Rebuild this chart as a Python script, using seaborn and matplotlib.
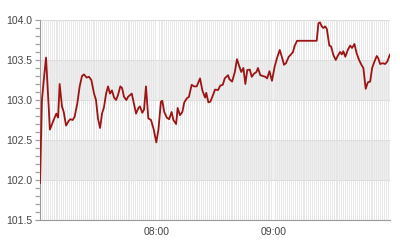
import matplotlib
matplotlib.use("Agg")
import matplotlib.pyplot as plt
import matplotlib.dates as mdates
from matplotlib.ticker import MultipleLocator
import seaborn as sns
import pandas as pd

# minutes after 07:00
minutes = [0, 1.0, 2.1, 3.1, 5.1, 6.7, 8.4, 9.3, 10.1, 11.3, 12.2, 13.4, 14.8, 15.6, 16.8, 17.8,
           19.2, 20.4, 21.6, 22.6, 24.0, 25.2, 26.4, 27.8, 28.8, 29.8, 30.9, 31.9, 32.9, 34.0,
           35.0, 36.0, 37.0, 38.1, 39.1, 40.1, 41.3, 42.2, 43.2, 44.4, 45.3, 47.2, 49.4, 50.6,
           51.4, 52.6, 53.5, 54.5, 55.7, 57.1, 58.5, 59.8, 60.9, 62.2, 62.9, 63.9, 65.2, 66.4,
           67.7, 68.6, 70.0, 70.8, 72.0, 73.2, 74.2, 75.5, 76.6, 78.0, 79.2, 80.6, 82.3, 83.5,
           84.9, 85.5, 86.6, 87.6, 88.8, 90.0, 91.6, 92.7, 94.0, 95.0, 96.7, 97.4, 98.8, 100.2,
           101.3, 102.5, 103.5, 104.6, 105.6, 106.6, 107.9, 108.9, 110.1, 111.3, 112.1, 113.3,
           114.6, 115.9, 116.8, 118.0, 119.3, 120.7, 122.1, 123.3, 124.5, 125.5, 126.5, 127.9,
           129.1, 130.1, 131.0, 132.2, 142.3, 143.2, 144.0, 144.9, 145.7, 146.6, 147.5, 148.8,
           149.7, 150.9, 152.1, 153.1, 154.3, 155.2, 156.0, 157.0, 158.3, 159.5, 160.5, 161.7,
           162.9, 164.1, 165.3, 166.3, 167.5, 168.6, 169.8, 170.8, 172.0, 173.2, 174.0, 174.9,
           176.3, 177.5, 178.6, 180.0]
prices = [101.96, 103.00, 103.29, 103.53, 102.63, 102.73, 102.83, 102.78, 103.20, 102.92, 102.85,
          102.68, 102.74, 102.76, 102.75, 102.79, 102.96, 103.17, 103.30, 103.32, 103.28, 103.29,
          103.25, 103.08, 103.00, 102.77, 102.65, 102.83, 102.91, 103.08, 103.17, 103.08, 103.12,
          103.03, 103.00, 103.06, 103.17, 103.15, 103.04, 103.00, 103.04, 103.08, 102.83, 102.90,
          102.92, 102.84, 102.88, 103.17, 102.77, 102.75, 102.63, 102.47, 102.63, 102.98, 102.99,
          102.85, 102.78, 102.76, 102.85, 102.75, 102.70, 102.90, 102.81, 102.85, 102.97, 103.02,
          103.04, 103.19, 103.17, 103.17, 103.27, 103.12, 103.03, 103.09, 102.97, 102.98, 103.05,
          103.13, 103.125, 103.18, 103.19, 103.27, 103.31, 103.26, 103.23, 103.35, 103.51, 103.42,
          103.35, 103.40, 103.20, 103.375, 103.38, 103.29, 103.33, 103.35, 103.40, 103.31, 103.30,
          103.29, 103.27, 103.36, 103.24, 103.42, 103.54, 103.625, 103.53, 103.44, 103.46, 103.54,
          103.57, 103.60, 103.68, 103.74, 103.74, 103.96, 103.97, 103.92, 103.90, 103.92, 103.89,
          103.68, 103.67, 103.56, 103.50, 103.55, 103.60, 103.57, 103.61, 103.54, 103.625, 103.68,
          103.65, 103.70, 103.58, 103.50, 103.44, 103.40, 103.14, 103.22, 103.23, 103.40, 103.48,
          103.55, 103.52, 103.45, 103.46, 103.45, 103.48, 103.57]

x_tick_labels = ["08:00", "09:00"]
y_ticks = [101.5, 102.0, 102.5, 103.0, 103.5, 104.0]

start = pd.Timestamp("2024-01-01 07:00")
df = pd.DataFrame({
    "time": start + pd.to_timedelta(minutes, unit="min"),
    "price": prices,
})

sns.set_style("white")
plt.rcParams["font.family"] = ["Liberation Sans", "DejaVu Sans"]

fig = plt.figure(figsize=(4, 2.4), dpi=100)
ax = fig.add_axes([0.1, 0.0833, 0.875, 0.8334])

# alternating bands
for lo in (102.0, 103.0):
    ax.axhspan(lo, lo + 0.5, color="#efefef", zorder=0, lw=0)
for yv in y_ticks:
    ax.axhline(yv, color="#dcdcdc", lw=0.8, zorder=0.5)

sns.lineplot(data=df, x="time", y="price", ax=ax, color="#9c1414", lw=1.3, zorder=3)

ax.set_xlim(start, start + pd.Timedelta(minutes=180))
ax.set_ylim(101.5, 104.0)

ax.xaxis.set_minor_locator(mdates.MinuteLocator())
ax.grid(which="minor", axis="x", color="#e2e2e2", lw=0.55, zorder=1)
ax.set_axisbelow(True)
ax.set_xticks([start + pd.Timedelta(hours=1), start + pd.Timedelta(hours=2)])
ax.set_xticklabels(x_tick_labels)
ax.tick_params(axis="x", which="both", length=0, labelsize=7.5, labelcolor="#444444", pad=5)

ax.set_yticks(y_ticks)
ax.set_yticklabels([f"{v:.1f}" for v in y_ticks])
ax.yaxis.set_minor_locator(MultipleLocator(0.1))
ax.tick_params(axis="y", which="both", left=True, length=3.5, width=0.8, color="#999999",
               labelsize=7.5, labelcolor="#444444", pad=2)

ax.set_xlabel("")
ax.set_ylabel("")
for s in ("top", "right"):
    ax.spines[s].set_visible(False)
for s in ("left", "bottom"):
    ax.spines[s].set_color("#999999")
    ax.spines[s].set_linewidth(0.8)

fig.savefig("out.png", dpi=100)
